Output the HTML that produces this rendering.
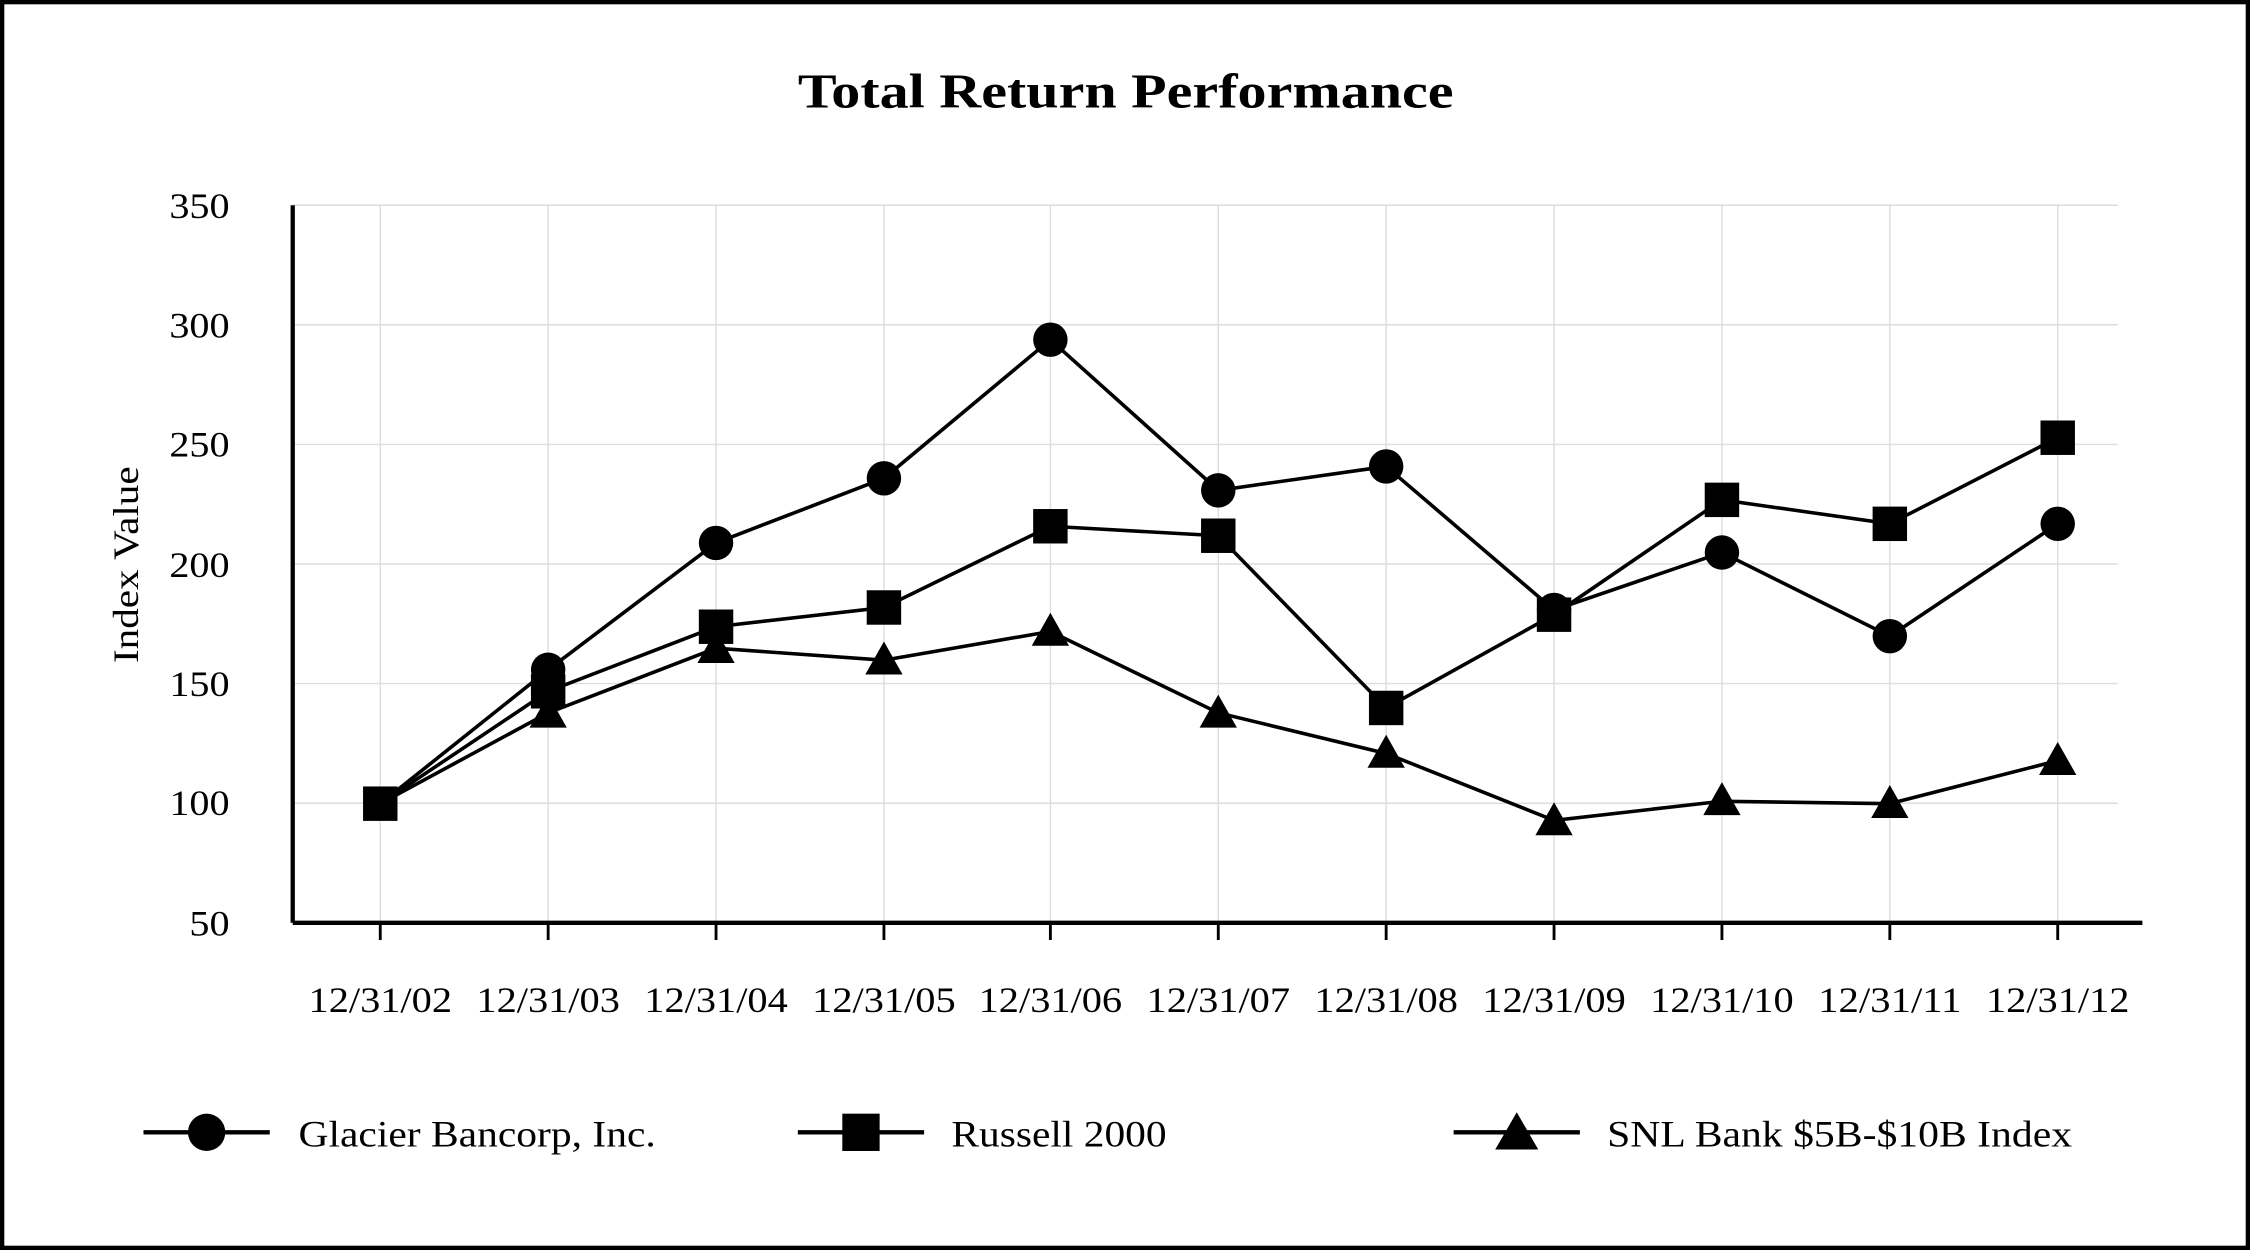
<!DOCTYPE html>
<html><head><style>html,body{margin:0;padding:0;background:#fff}svg{display:block}</style></head><body>
<svg width="2250" height="1250" viewBox="0 0 1568 871" preserveAspectRatio="none" xmlns="http://www.w3.org/2000/svg" font-family="Liberation Serif, serif">
<rect x="1.5" y="1.5" width="1565" height="868" fill="#fff" stroke="#000" stroke-width="3"/>
<text x="556" y="75" font-size="34" font-weight="bold" textLength="457" lengthAdjust="spacingAndGlyphs">Total Return Performance</text>
<g stroke="#ddd" stroke-width="1">
<line x1="204" y1="143" x2="1476" y2="143"/><line x1="204" y1="226.3" x2="1476" y2="226.3"/><line x1="204" y1="309.7" x2="1476" y2="309.7"/><line x1="204" y1="393" x2="1476" y2="393"/><line x1="204" y1="476.3" x2="1476" y2="476.3"/><line x1="204" y1="559.7" x2="1476" y2="559.7"/>
<line x1="265" y1="143" x2="265" y2="643"/><line x1="382" y1="143" x2="382" y2="643"/><line x1="499" y1="143" x2="499" y2="643"/><line x1="616" y1="143" x2="616" y2="643"/><line x1="732" y1="143" x2="732" y2="643"/><line x1="849" y1="143" x2="849" y2="643"/><line x1="966" y1="143" x2="966" y2="643"/><line x1="1083" y1="143" x2="1083" y2="643"/><line x1="1200" y1="143" x2="1200" y2="643"/><line x1="1317" y1="143" x2="1317" y2="643"/><line x1="1434" y1="143" x2="1434" y2="643"/>
</g>
<g stroke="#000" stroke-width="3"><line x1="204" y1="143" x2="204" y2="643"/><line x1="204" y1="643" x2="1493" y2="643"/></g>
<g stroke="#000" stroke-width="2">
<line x1="265" y1="643" x2="265" y2="655"/><line x1="382" y1="643" x2="382" y2="655"/><line x1="499" y1="643" x2="499" y2="655"/><line x1="616" y1="643" x2="616" y2="655"/><line x1="732" y1="643" x2="732" y2="655"/><line x1="849" y1="643" x2="849" y2="655"/><line x1="966" y1="643" x2="966" y2="655"/><line x1="1083" y1="643" x2="1083" y2="655"/><line x1="1200" y1="643" x2="1200" y2="655"/><line x1="1317" y1="643" x2="1317" y2="655"/><line x1="1434" y1="643" x2="1434" y2="655"/>
</g>
<g font-size="25">
<text x="118" y="152" textLength="42" lengthAdjust="spacingAndGlyphs">350</text><text x="118" y="235" textLength="42" lengthAdjust="spacingAndGlyphs">300</text><text x="118" y="318" textLength="42" lengthAdjust="spacingAndGlyphs">250</text><text x="118" y="402" textLength="42" lengthAdjust="spacingAndGlyphs">200</text><text x="118" y="485" textLength="42" lengthAdjust="spacingAndGlyphs">150</text><text x="118" y="568" textLength="42" lengthAdjust="spacingAndGlyphs">100</text><text x="132" y="652" textLength="28" lengthAdjust="spacingAndGlyphs">50</text>
</g>
<text transform="translate(96,462) rotate(-90)" font-size="25" textLength="137" lengthAdjust="spacingAndGlyphs">Index Value</text>
<g font-size="25">
<text x="215" y="705" textLength="100" lengthAdjust="spacingAndGlyphs">12/31/02</text><text x="332" y="705" textLength="100" lengthAdjust="spacingAndGlyphs">12/31/03</text><text x="449" y="705" textLength="100" lengthAdjust="spacingAndGlyphs">12/31/04</text><text x="566" y="705" textLength="100" lengthAdjust="spacingAndGlyphs">12/31/05</text><text x="682" y="705" textLength="100" lengthAdjust="spacingAndGlyphs">12/31/06</text><text x="799" y="705" textLength="100" lengthAdjust="spacingAndGlyphs">12/31/07</text><text x="916" y="705" textLength="100" lengthAdjust="spacingAndGlyphs">12/31/08</text><text x="1033" y="705" textLength="100" lengthAdjust="spacingAndGlyphs">12/31/09</text><text x="1150" y="705" textLength="100" lengthAdjust="spacingAndGlyphs">12/31/10</text><text x="1267" y="705" textLength="100" lengthAdjust="spacingAndGlyphs">12/31/11</text><text x="1384" y="705" textLength="100" lengthAdjust="spacingAndGlyphs">12/31/12</text>
</g>
<g fill="none" stroke="#000" stroke-width="2.5">
<polyline points="265,560 382,466.7 499,378.3 616,333.3 732,236.7 849,341.7 966,325 1083,425 1200,385 1317,443.3 1434,365"/>
<polyline points="265,560 382,481.7 499,436.7 616,423.3 732,366.7 849,373.3 966,493.3 1083,428.3 1200,348.3 1317,365 1434,305"/>
<polyline points="265,560 382,496.7 499,451.7 616,460 732,440 849,496.7 966,525 1083,571.7 1200,558.3 1317,560 1434,530"/>
</g>
<g fill="#000">
<circle cx="382" cy="466.7" r="12"/><circle cx="499" cy="378.3" r="12"/><circle cx="616" cy="333.3" r="12"/><circle cx="732" cy="236.7" r="12"/><circle cx="849" cy="341.7" r="12"/><circle cx="966" cy="325" r="12"/><circle cx="1083" cy="425" r="12"/><circle cx="1200" cy="385" r="12"/><circle cx="1317" cy="443.3" r="12"/><circle cx="1434" cy="365" r="12"/>
<g transform="translate(-12,-12)">
<rect x="265" y="560" width="24" height="24"/><rect x="382" y="481.7" width="24" height="24"/><rect x="499" y="436.7" width="24" height="24"/><rect x="616" y="423.3" width="24" height="24"/><rect x="732" y="366.7" width="24" height="24"/><rect x="849" y="373.3" width="24" height="24"/><rect x="966" y="493.3" width="24" height="24"/><rect x="1083" y="428.3" width="24" height="24"/><rect x="1200" y="348.3" width="24" height="24"/><rect x="1317" y="365" width="24" height="24"/><rect x="1434" y="305" width="24" height="24"/>
</g>
<path d="M382,484 l-13,23 h26z M499,439 l-13,23 h26z M616,447 l-13,23 h26z M732,427 l-13,23 h26z M849,484 l-13,23 h26z M966,512 l-13,23 h26z M1083,559 l-13,23 h26z M1200,545 l-13,23 h26z M1317,547 l-13,23 h26z M1434,517 l-13,23 h26z"/>
</g>
<g stroke="#000" stroke-width="3"><line x1="100" y1="789" x2="188" y2="789"/><line x1="556" y1="789" x2="644" y2="789"/><line x1="1013" y1="789" x2="1101" y2="789"/></g>
<circle cx="144" cy="789" r="13"/><rect x="587" y="776" width="26" height="26"/><path d="M1057,775 l-15,26 h30z"/>
<g font-size="26"><text x="208" y="799" textLength="249" lengthAdjust="spacingAndGlyphs">Glacier Bancorp, Inc.</text><text x="663" y="799" textLength="150" lengthAdjust="spacingAndGlyphs">Russell 2000</text><text x="1120" y="799" textLength="324" lengthAdjust="spacingAndGlyphs">SNL Bank $5B-$10B Index</text></g>
</svg>
</body></html>
